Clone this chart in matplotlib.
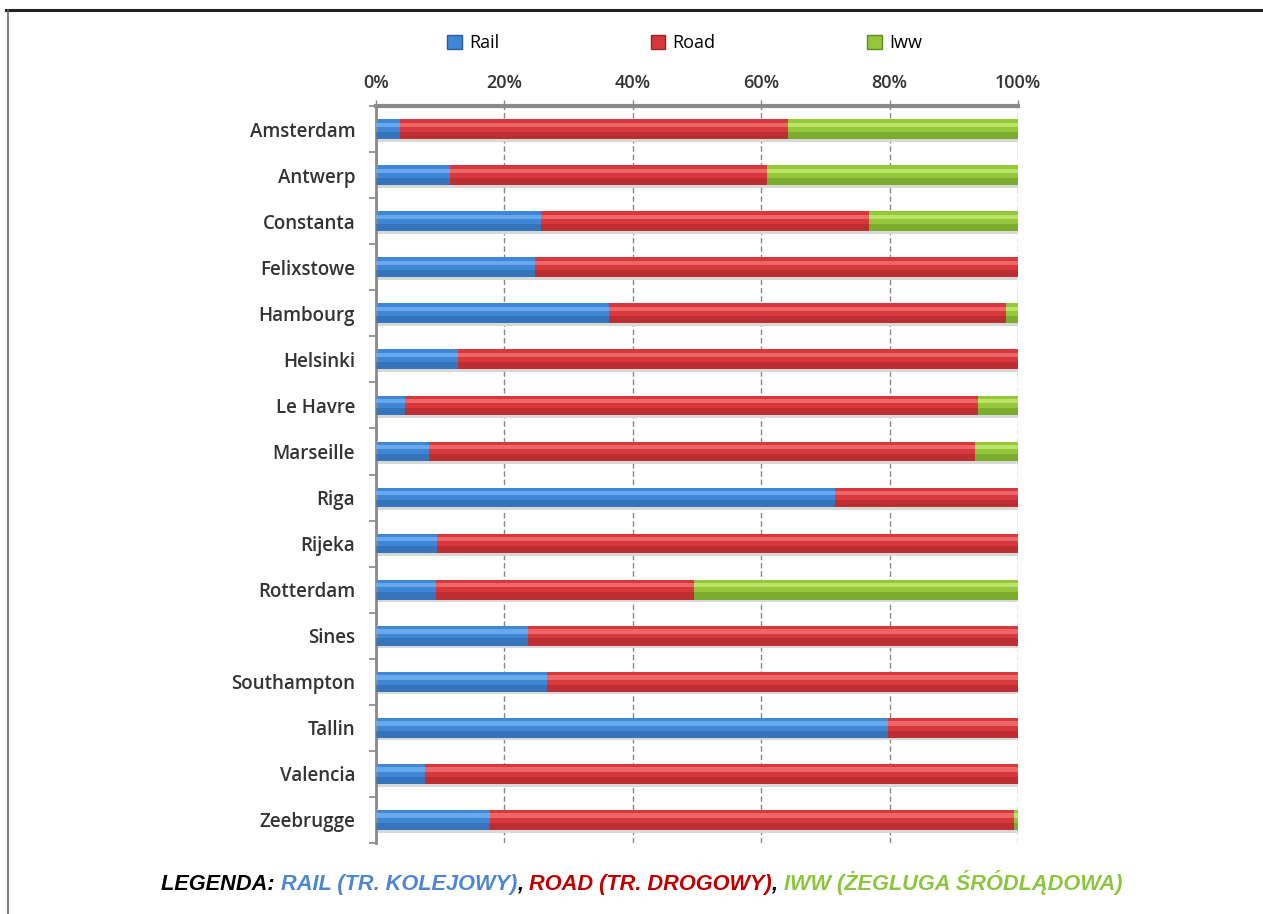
import numpy as np
import matplotlib.pyplot as plt
from matplotlib.patches import Patch
from matplotlib.lines import Line2D
from matplotlib.offsetbox import TextArea, HPacker, AnchoredOffsetbox
from matplotlib.ticker import FixedLocator, PercentFormatter

ports = ["Amsterdam", "Antwerp", "Constanta", "Felixstowe", "Hambourg", "Helsinki",
         "Le Havre", "Marseille", "Riga", "Rijeka", "Rotterdam", "Sines",
         "Southampton", "Tallin", "Valencia", "Zeebrugge"]
rail = [3.7, 11.5, 25.7, 24.8, 36.3, 12.8, 4.5, 8.3, 71.5, 9.5, 9.3, 23.7, 26.6, 79.8, 7.6, 17.8]
road = [60.5, 49.4, 51.1, 75.2, 61.8, 87.2, 89.3, 85.0, 28.5, 90.5, 40.2, 76.3, 73.4, 20.2, 92.4, 81.6]
iww = [35.8, 39.1, 23.2, 0.0, 1.9, 0.0, 6.2, 6.7, 0.0, 0.0, 50.5, 0.0, 0.0, 0.0, 0.0, 0.6]

series = [("Rail", rail, "#3f86d6", "#6fb0f0", "#2a5d9c"),
          ("Road", road, "#d8383b", "#f07070", "#9c2326"),
          ("Iww", iww, "#94c83a", "#c3ea6e", "#5f8a1e")]

fig = plt.figure(figsize=(12.63, 9.14), dpi=100)
ax = fig.add_axes([0.2977, 0.0777, 0.5083, 0.8063])

y = np.arange(len(ports))
h = 0.43
left = np.zeros(len(ports))
for name, vals, base, light, dark in series:
    vals = np.array(vals)
    # soft drop shadow, body, darker lower edge, glossy upper strip
    ax.barh(y + 0.06, vals, height=h, left=left + 0.3, color="#d8d8d8", zorder=1)
    ax.barh(y, vals, height=h, left=left, color=base, zorder=2)
    ax.barh(y + h * 0.32, vals, height=h * 0.36, left=left, color=dark, alpha=0.45, zorder=3)
    ax.barh(y - h * 0.22, vals, height=h * 0.22, left=left, color=light, alpha=0.85, zorder=3)
    left += vals

ax.set_xlim(0, 100)
ax.set_ylim(len(ports) - 0.5, -0.5)
ax.xaxis.tick_top()
ax.xaxis.set_major_locator(FixedLocator([0, 20, 40, 60, 80, 100]))
ax.xaxis.set_major_formatter(PercentFormatter(decimals=0))
ax.tick_params(axis="x", length=4, width=1, color="#888888", pad=6,
               labelsize=13, labelcolor="#333333")
for lbl in ax.get_xticklabels():
    lbl.set_fontweight("semibold")
    lbl.set_family("Open Sans")

ax.set_yticks(y)
ax.set_yticklabels(ports, fontsize=13.5, fontweight="semibold", family="Open Sans",
                   color="#333333")
ax.tick_params(axis="y", length=0, pad=15)
ax.set_yticks(np.arange(len(ports) + 1) - 0.5, minor=True)
ax.tick_params(axis="y", which="minor", length=5, width=1.2, color="#888888")

for x in [20, 40, 60, 80, 100]:
    ax.axvline(x, color="#888888", lw=1, ls=(0, (4, 2)), zorder=0)

for side in ["right", "bottom"]:
    ax.spines[side].set_visible(False)
ax.spines["top"].set_color("#8a8a8a")
ax.spines["top"].set_linewidth(3)
ax.spines["left"].set_color("#8a8a8a")
ax.spines["left"].set_linewidth(2)

handles = [Patch(facecolor=s[2], edgecolor=s[4], label=s[0]) for s in series]
fig.legend(handles=handles, loc="center", bbox_to_anchor=(0.542, 0.953), ncol=3,
           frameon=False, handlelength=0.8, handleheight=0.8, handletextpad=0.4,
           columnspacing=8.4, prop={"family": "Open Sans", "size": 13})

# coloured caption underneath
parts = [("LEGENDA: ", "black"), ("RAIL (TR. KOLEJOWY)", "#4f86d0"), (", ", "black"),
         ("ROAD (TR. DROGOWY)", "#c00000"), (", ", "black"),
         ("IWW (ŻEGLUGA ŚRÓDLĄDOWA)", "#8cc63f")]
boxes = [TextArea(t, textprops=dict(color=c, fontsize=15.7, fontweight="bold",
                                    fontstyle="italic", family="Liberation Sans"))
         for t, c in parts]
pack = HPacker(children=boxes, pad=0, sep=0)
anch = AnchoredOffsetbox(loc="center", child=pack, frameon=False,
                         bbox_to_anchor=(0.508, 0.035), bbox_transform=fig.transFigure)
fig.add_artist(anch)

# frame lines
fig.add_artist(Line2D([0.005, 1.0], [0.989, 0.989], color="#222222", lw=2.2))
fig.add_artist(Line2D([0.0062, 0.0062], [0.0, 0.989], color="#666666", lw=1.2))

fig.savefig("out.png", dpi=100)
